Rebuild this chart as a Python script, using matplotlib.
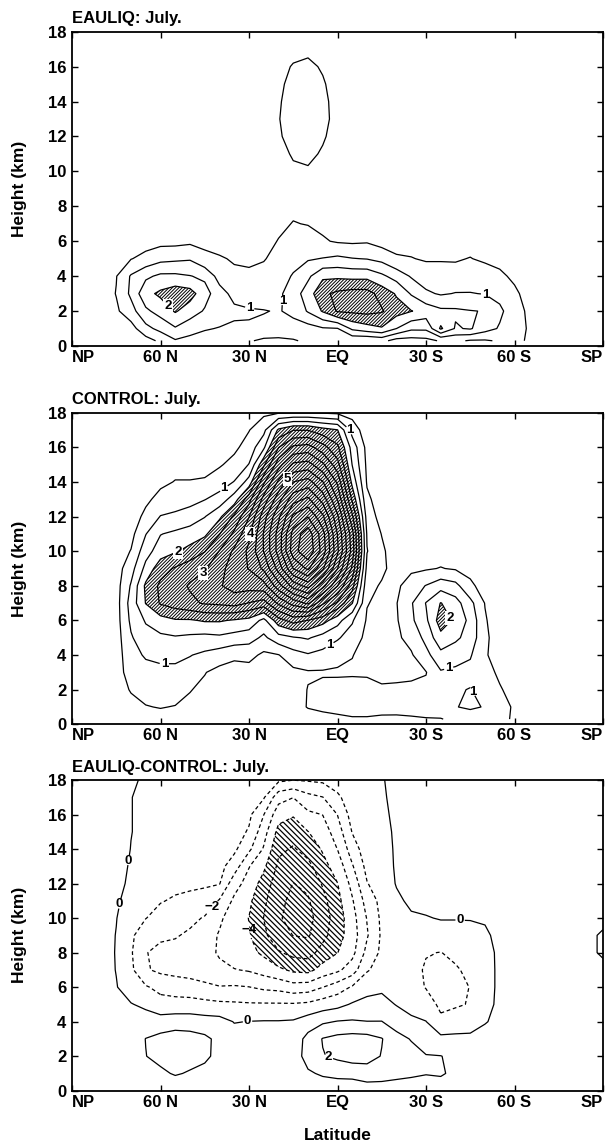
import numpy as np
import matplotlib
matplotlib.use("Agg")
import matplotlib.pyplot as plt

plt.rcParams['font.family'] = ['Liberation Sans', 'DejaVu Sans']
plt.rcParams['font.weight'] = 'bold'
plt.rcParams['axes.titleweight'] = 'bold'
plt.rcParams['axes.labelweight'] = 'bold'
plt.rcParams['hatch.color'] = 'black'

# Grid: latitude (deg, north positive) and height (km)
lats = np.arange(90, -91, -5)
heights = np.array([0.3] + list(range(1, 19)), dtype=float)

tick_lats = [90, 60, 30, 0, -30, -60, -90]
tick_names = ['NP', '60 N', '30 N', 'EQ', '30 S', '60 S', 'SP']
height_ticks = list(range(0, 19, 2))

# ---- EAULIQ: July.  (columns by latitude, values at each height) ----
eauliq = {
    90: [0.1] * 19,
    85: [0.1] * 19,
    80: [0.1, 0.12, 0.18, 0.22, 0.2, 0.15, 0.12] + [0.1] * 12,
    75: [0.15, 0.25, 0.42, 0.52, 0.48, 0.3, 0.2, 0.15] + [0.1] * 11,
    70: [0.2, 0.3, 0.8, 1.1, 1.05, 0.48, 0.25, 0.18] + [0.12] * 11,
    65: [0.3, 0.85, 1.4, 1.85, 1.4, 0.65, 0.3, 0.2] + [0.15] * 11,
    60: [0.6, 1.15, 1.7, 2.1, 1.6, 0.85, 0.35, 0.25] + [0.15] * 11,
    55: [0.95, 1.45, 2.05, 2.3, 1.6, 0.9, 0.35, 0.25] + [0.15] * 11,
    50: [0.85, 1.2, 1.75, 2.2, 1.52, 0.95, 0.4, 0.28] + [0.15] * 11,
    45: [0.75, 1.05, 1.45, 1.7, 1.4, 0.6, 0.4, 0.25] + [0.15] * 11,
    40: [0.7, 0.97, 1.3, 1.2, 0.8, 0.55, 0.3, 0.2] + [0.15] * 11,
    35: [0.6, 0.92, 1.1, 0.85, 0.6, 0.45, 0.3, 0.2] + [0.15] * 11,
    30: [0.55, 0.95, 1.05, 0.75, 0.55, 0.45, 0.3, 0.2] + [0.15] * 11,
    25: [0.4, 0.9, 1.02, 0.75, 0.6, 0.48, 0.35, 0.25, 0.18] + [0.15] * 10,
    20: [0.4, 0.8, 0.97, 0.9, 0.75, 0.6, 0.52, 0.4, 0.3, 0.25, 0.3, 0.35, 0.45, 0.48, 0.45, 0.4, 0.3, 0.2, 0.15],
    15: [0.45, 0.85, 1.1, 1.25, 1.05, 0.8, 0.65, 0.52, 0.4, 0.35, 0.42, 0.55, 0.65, 0.7, 0.7, 0.65, 0.55, 0.3, 0.15],
    10: [0.6, 0.8, 1.55, 1.75, 1.4, 0.95, 0.7, 0.48, 0.35, 0.33, 0.45, 0.6, 0.7, 0.75, 0.75, 0.7, 0.6, 0.4, 0.15],
    5: [0.7, 0.95, 2.05, 2.4, 1.9, 1.02, 0.55, 0.4, 0.3, 0.28, 0.3, 0.45, 0.55, 0.6, 0.6, 0.55, 0.45, 0.3, 0.15],
    0: [0.75, 0.98, 2.55, 2.6, 1.9, 1.1, 0.45, 0.35, 0.28, 0.25, 0.25, 0.28, 0.33, 0.38, 0.35, 0.3, 0.25, 0.2, 0.15],
    -5: [0.6, 1.6, 2.6, 2.7, 1.85, 1.02, 0.42, 0.35, 0.28, 0.25, 0.25, 0.25, 0.28, 0.3, 0.28, 0.25, 0.2, 0.15, 0.1],
    -10: [0.55, 1.8, 2.65, 2.7, 1.85, 0.98, 0.45, 0.32, 0.25, 0.22] + [0.2] * 6 + [0.15, 0.12, 0.1],
    -15: [0.65, 1.95, 2.55, 2.3, 1.6, 0.85, 0.3, 0.25] + [0.2] * 8 + [0.15, 0.12, 0.1],
    -20: [0.3, 1.5, 2.2, 1.95, 1.3, 0.55, 0.35, 0.25] + [0.2] * 8 + [0.15, 0.12, 0.1],
    -25: [0.3, 1.1, 2.02, 1.45, 0.95, 0.52, 0.33, 0.25] + [0.2] * 8 + [0.15, 0.12, 0.1],
    -30: [0.35, 1.1, 1.8, 1.08, 0.75, 0.45, 0.3, 0.2] + [0.15] * 11,
    -35: [0.55, 2.08, 1.6, 0.95, 0.6, 0.48, 0.3, 0.2] + [0.15] * 11,
    -40: [0.6, 1.45, 1.58, 1.02, 0.7, 0.45, 0.3, 0.2] + [0.15] * 11,
    -45: [0.45, 1.55, 1.52, 1.02, 0.75, 0.52, 0.3, 0.2] + [0.15] * 11,
    -50: [0.45, 1.2, 1.48, 0.98, 0.8, 0.4, 0.25, 0.2] + [0.15] * 11,
    -55: [0.55, 0.95, 1.1, 0.85, 0.6, 0.35, 0.2, 0.15] + [0.1] * 11,
    -60: [0.6, 0.7, 0.72, 0.6, 0.4, 0.25, 0.15] + [0.1] * 12,
    -65: [0.45, 0.45, 0.4, 0.3, 0.2, 0.15] + [0.1] * 13,
    -70: [0.2, 0.2, 0.2, 0.15] + [0.1] * 15,
    -75: [0.1] * 19, -80: [0.1] * 19, -85: [0.1] * 19, -90: [0.1] * 19,
}

# ---- CONTROL: July. ----
control = {
    90: [0.1] * 19, 85: [0.1] * 19, 80: [0.1] * 19,
    75: [0.1, 0.15, 0.2, 0.25, 0.25, 0.28, 0.3, 0.3, 0.3, 0.28, 0.25, 0.2, 0.15] + [0.1] * 6,
    70: [0.2, 0.3, 0.55, 0.75, 0.85, 0.95, 1.1, 1.2, 1.05, 0.8, 0.52, 0.35, 0.25, 0.2, 0.15, 0.12, 0.1, 0.1, 0.1],
    65: [0.3, 0.48, 0.65, 0.85, 1.05, 1.3, 1.55, 2.02, 2.1, 1.65, 1.3, 0.98, 0.62, 0.4, 0.3, 0.25, 0.2, 0.15, 0.1],
    60: [0.35, 0.52, 0.7, 0.9, 1.1, 1.4, 1.8, 2.55, 2.6, 2.3, 1.75, 1.48, 1.02, 0.65, 0.4, 0.3, 0.25, 0.2, 0.15],
    55: [0.4, 0.48, 0.7, 0.9, 1.1, 1.45, 1.95, 2.75, 2.8, 2.55, 1.95, 1.6, 1.1, 0.75, 0.52, 0.35, 0.25, 0.2, 0.15],
    50: [0.3, 0.4, 0.52, 0.8, 1.02, 1.4, 1.95, 2.9, 3.05, 2.8, 2.15, 1.75, 1.2, 0.85, 0.52, 0.35, 0.25, 0.2, 0.15],
    45: [0.2, 0.3, 0.4, 0.52, 0.9, 1.35, 2.05, 3.05, 3.2, 2.95, 2.48, 1.9, 1.48, 0.98, 0.55, 0.35, 0.25, 0.2, 0.15],
    40: [0.2, 0.25, 0.3, 0.35, 0.75, 1.4, 2.05, 3.1, 3.45, 3.3, 3.02, 2.48, 1.9, 1.2, 0.75, 0.45, 0.3, 0.2, 0.15],
    35: [0.15, 0.2, 0.25, 0.3, 0.6, 1.3, 1.95, 3.2, 3.7, 3.8, 3.6, 3.1, 2.6, 1.75, 1.02, 0.65, 0.4, 0.25, 0.15],
    30: [0.15, 0.2, 0.25, 0.3, 0.65, 1.2, 1.85, 2.98, 3.7, 4.02, 4.1, 3.9, 3.48, 2.8, 1.7, 1.02, 0.7, 0.48, 0.3],
    25: [0.15, 0.2, 0.25, 0.3, 0.4, 0.9, 1.35, 2.8, 3.8, 4.6, 5.02, 5.04, 4.8, 4.2, 3.4, 2.4, 1.4, 0.85, 0.4],
    20: [0.1, 0.15, 0.25, 0.35, 0.48, 1.3, 2.3, 3.6, 4.8, 5.7, 6.2, 6.2, 5.9, 5.3, 4.6, 3.8, 2.98, 2.1, 0.45],
    15: [0.1, 0.15, 0.25, 0.38, 0.8, 1.45, 2.7, 4.2, 5.7, 7.02, 7.8, 7.7, 7.1, 6.3, 5.5, 4.6, 3.6, 2.48, 0.48],
    10: [0.1, 0.55, 0.52, 0.45, 0.95, 1.55, 2.48, 4.6, 6.2, 7.6, 8.4, 8.3, 7.48, 6.6, 5.7, 4.7, 3.7, 2.48, 0.48],
    5: [0.35, 0.6, 0.62, 0.45, 0.85, 1.3, 2.2, 3.6, 5.2, 6.6, 7.3, 7.2, 6.6, 5.8, 5.02, 4.1, 3.2, 2.2, 0.45],
    0: [0.4, 0.65, 0.7, 0.42, 0.7, 1.05, 1.7, 2.9, 4.02, 5.02, 5.6, 5.48, 5.1, 4.48, 3.9, 3.2, 2.6, 2.02, 0.4],
    -5: [0.45, 0.7, 0.75, 0.42, 0.52, 0.8, 1.05, 2.02, 2.7, 3.4, 3.8, 3.7, 3.1, 2.4, 1.85, 1.48, 1.3, 0.8, 0.3],
    -10: [0.45, 0.7, 0.75, 0.4, 0.3, 0.35, 0.45, 0.52, 0.65, 0.85, 1.02, 0.95, 0.8, 0.6, 0.45, 0.4, 0.35, 0.2, 0.15],
    -15: [0.4, 0.7, 0.6, 0.3, 0.25, 0.25, 0.3, 0.4, 0.45, 0.6, 0.6, 0.48, 0.3, 0.25, 0.2, 0.15, 0.15, 0.15, 0.15],
    -20: [0.42, 0.65, 0.6, 0.35, 0.35, 0.42, 0.45, 0.48, 0.4, 0.3, 0.2, 0.15, 0.15, 0.15, 0.15, 0.1, 0.1, 0.1, 0.1],
    -25: [0.45, 0.65, 0.6, 0.4, 0.45, 0.65, 0.9, 0.95, 0.75, 0.4, 0.25, 0.15, 0.15, 0.15, 0.1, 0.1, 0.1, 0.1, 0.1],
    -30: [0.48, 0.65, 0.6, 0.48, 0.85, 1.15, 1.4, 1.52, 1.02, 0.45, 0.25, 0.15, 0.15, 0.1, 0.1, 0.1, 0.1, 0.1, 0.1],
    -35: [0.48, 0.75, 0.8, 0.95, 1.35, 1.85, 2.25, 2.02, 1.3, 0.52, 0.3, 0.2, 0.15] + [0.1] * 6,
    -40: [0.6, 0.98, 0.95, 0.9, 1.2, 1.6, 1.9, 1.7, 1.15, 0.45, 0.25, 0.15] + [0.1] * 7,
    -45: [0.7, 1.08, 1.02, 0.85, 1.05, 1.3, 1.35, 1.15, 0.6, 0.35, 0.2, 0.15] + [0.1] * 7,
    -50: [0.6, 0.97, 0.8, 0.7, 0.55, 0.6, 0.55, 0.48, 0.3, 0.2, 0.15] + [0.1] * 8,
    -55: [0.6, 0.65, 0.55, 0.4, 0.3, 0.25, 0.2, 0.15] + [0.1] * 11,
    -60: [0.45, 0.45, 0.3, 0.2, 0.15] + [0.1] * 14,
    -65: [0.1] * 19, -70: [0.1] * 19, -75: [0.1] * 19, -80: [0.1] * 19,
    -85: [0.1] * 19, -90: [0.1] * 19,
}

# ---- EAULIQ-CONTROL: July. ----
difference = {
    90: [0.4] * 19, 85: [0.4] * 19, 80: [0.4] * 19,
    75: [0.4, 0.4, 0.4, 0.4, 0.35, 0.25, 0.05, -0.03, -0.05, -0.03, 0.03, 0.15, 0.3, 0.35, 0.4, 0.4, 0.4, 0.4, 0.4],
    70: [0.5, 0.52, 0.55, 0.45, 0.3, 0.05, -0.5, -0.8, -0.9, -0.85, -0.6, -0.4, -0.2, -0.1, -0.02, 0.02, 0.02, 0.02, 0.1],
    65: [0.5, 0.8, 0.98, 1.02, 0.45, -0.2, -0.9, -1.9, -1.95, -1.5, -0.98, -0.7, -0.5, -0.35, -0.25, -0.2, -0.2, -0.2, -0.1],
    60: [0.6, 0.8, 1.3, 1.3, 0.4, -0.6, -1.3, -2.2, -2.3, -1.8, -1.3, -0.95, -0.7, -0.5, -0.35, -0.3, -0.25, -0.2, -0.15],
    55: [0.5, 1.1, 1.55, 1.5, 0.5, -0.6, -1.5, -2.3, -2.4, -1.9, -1.5, -1.1, -0.8, -0.55, -0.4, -0.3, -0.25, -0.2, -0.15],
    50: [0.4, 0.9, 1.4, 1.4, 0.5, -0.6, -1.6, -2.4, -2.5, -2.2, -1.7, -1.2, -0.85, -0.6, -0.45, -0.35, -0.3, -0.2, -0.15],
    45: [0.3, 0.7, 1.2, 1.2, 0.4, -0.7, -1.8, -2.5, -2.7, -2.5, -2.1, -1.3, -0.9, -0.65, -0.5, -0.4, -0.3, -0.25, -0.2],
    40: [0.3, 0.5, 0.7, 0.75, 0.35, -0.8, -1.95, -2.8, -3.1, -3.1, -2.8, -2.1, -0.95, -0.7, -0.5, -0.4, -0.35, -0.3, -0.2],
    35: [0.3, 0.45, 0.5, 0.4, -0.04, -0.85, -1.9, -2.95, -3.6, -3.8, -3.6, -3.2, -2.6, -1.5, -0.8, -0.6, -0.45, -0.35, -0.3],
    30: [0.3, 0.4, 0.45, 0.35, 0.02, -0.9, -1.98, -3.1, -3.7, -3.95, -4.02, -3.8, -3.4, -2.95, -1.8, -1.1, -0.8, -0.48, -0.35],
    25: [0.35, 0.4, 0.45, 0.3, 0.05, -0.9, -2.2, -3.4, -4.2, -4.8, -5.02, -4.8, -4.4, -3.8, -3.1, -2.6, -1.98, -0.9, -0.45],
    20: [0.35, 0.4, 0.45, 0.3, 0.05, -0.9, -2.3, -3.8, -4.9, -5.6, -5.9, -5.8, -5.6, -5.2, -4.8, -4.3, -3.6, -2.6, -0.8],
    15: [0.4, 0.52, 0.6, 0.45, 0.1, -0.9, -2.6, -4.2, -5.3, -6.02, -6.3, -6.2, -6.02, -5.6, -5.1, -4.6, -3.9, -2.98, -0.98],
    10: [0.6, 0.9, 1.3, 1.3, 0.5, -0.8, -2.5, -4.3, -5.4, -6.1, -6.3, -6.1, -5.8, -5.3, -4.6, -4.02, -3.2, -2.3, -0.9],
    5: [0.7, 1.1, 1.95, 2.05, 0.85, -0.5, -2.02, -3.6, -4.6, -5.3, -5.5, -5.3, -4.9, -4.3, -3.9, -3.5, -2.98, -2.02, -0.8],
    0: [0.6, 1.3, 2.2, 2.3, 1.05, -0.3, -1.5, -3.2, -4.02, -4.4, -4.5, -4.3, -4.02, -3.6, -2.98, -2.5, -1.98, -1.2, -0.45],
    -5: [0.55, 1.4, 2.4, 2.4, 1.1, 0.1, -0.9, -2.5, -3.3, -3.5, -3.4, -3.1, -2.7, -2.1, -1.5, -0.95, -0.6, -0.4, -0.3],
    -10: [0.8, 1.5, 2.4, 2.35, 1.02, 0.25, -0.3, -1.1, -1.7, -2.1, -1.95, -1.6, -1.05, -0.7, -0.45, -0.3, -0.2, -0.15, -0.1],
    -15: [0.8, 1.4, 1.95, 2.05, 1.02, 0.35, -0.2, -0.6, -0.8, -0.85, -0.8, -0.7, -0.48, -0.4, -0.3, -0.2, -0.15, -0.1, -0.05],
    -20: [0.8, 1.2, 1.5, 1.3, 0.6, -0.05, -0.4, -0.48, -0.48, -0.45, -0.35, -0.15, 0.05, 0.1, 0.1, 0.1, 0.15, 0.2, 0.2],
    -25: [0.7, 1.15, 1.3, 0.95, 0.2, -0.35, -0.6, -0.7, -0.6, -0.4, -0.1, 0.15, 0.3, 0.35, 0.35, 0.35, 0.35, 0.35, 0.35],
    -30: [0.6, 1.05, 1.05, 0.52, 0.02, -0.55, -1.05, -1.1, -0.95, -0.48, -0.05, 0.25, 0.35, 0.4, 0.4, 0.4, 0.4, 0.4, 0.4],
    -35: [0.7, 1.1, 1.02, 0.25, -0.8, -1.2, -1.3, -1.25, -1.02, -0.4, 0.05, 0.3, 0.35, 0.4, 0.4, 0.4, 0.4, 0.4, 0.4],
    -40: [0.6, 0.8, 0.8, 0.25, -0.6, -1.1, -1.2, -1.1, -0.8, -0.4, 0.05, 0.3, 0.35, 0.4, 0.4, 0.4, 0.4, 0.4, 0.4],
    -45: [0.5, 0.6, 0.6, 0.2, -0.4, -0.95, -0.98, -0.8, -0.6, -0.3, 0.05, 0.3, 0.35, 0.4, 0.4, 0.4, 0.4, 0.4, 0.4],
    -50: [0.5, 0.5, 0.5, 0.3, -0.05, -0.3, -0.4, -0.4, -0.35, -0.15, 0.1, 0.3, 0.35, 0.4, 0.4, 0.4, 0.4, 0.4, 0.4],
    -55: [0.5, 0.5, 0.5, 0.35, 0.2, 0.2, 0.2, 0.2, 0.2, 0.25, 0.3, 0.35, 0.4, 0.4, 0.4, 0.4, 0.4, 0.4, 0.4],
    -60: [0.4] * 19, -65: [0.4] * 19, -70: [0.4] * 19, -75: [0.4] * 19, -80: [0.4] * 19,
    -85: [0.4] * 8 + [0.3, 0.3] + [0.4] * 9,
    -90: [0.4] * 8 + [-0.2, -0.2] + [0.4] * 9,
}

eauliq_levels = [0.5, 1.0, 1.5, 2.0, 2.5]
eauliq_labelled = [1.0, 2.0]
control_levels = list(np.arange(0.5, 9.0, 0.5))
control_labelled = [1.0, 2.0, 3.0, 4.0, 5.0]
difference_levels = [-7, -6, -5, -4, -3, -2, -1, 0, 1, 2]
difference_labelled = [-4, -2, 0, 2]

# label positions (lat, height)
eauliq_label_pos = [(29.9, 1.97), (18.1, 2.6), (-50.0, 2.9), (58.0, 2.2)]
control_label_pos = [(38.4, 13.6), (58.7, 3.5), (-4.2, 17.0), (2.4, 4.5), (-37.6, 3.3),
                     (-46.0, 1.9), (54.1, 10.0), (44.3, 8.44), (29.5, 11.0), (18.0, 14.3),
                     (-40.2, 6.3)]
difference_label_pos = [(73.4, 13.4), (73.4, 10.8), (42.3, 10.6), (31.2, 9.3), (30.5, 4.0),
                        (-41.5, 9.6), (2.4, 2.26)]


def to_grid(columns):
    return np.array([columns[int(lat)] for lat in lats], dtype=float).T


def fmt_level(v):
    s = f"{v:g}"
    return s.replace('-', '\u2212')


def dash_for(v):
    return 'solid' if v >= 0 else (0, (3.0, 2.2))


def draw_contours(ax, X, Y, F, levels, labelled, positions, box_labels=()):
    plain = [v for v in levels if v not in labelled]
    ax.contour(X, Y, F, levels=plain, colors='k', linewidths=0.9,
               linestyles=[dash_for(v) for v in plain])
    cs = ax.contour(X, Y, F, levels=labelled, colors='k', linewidths=0.9,
                    linestyles=[dash_for(v) for v in labelled])
    texts = ax.clabel(cs, manual=positions, inline=True, fmt=fmt_level,
                      fontsize=9.5, inline_spacing=1)
    for t in texts:
        t.set_rotation(0)
        t.set_fontweight('bold')
        if t.get_text() in box_labels:
            t.set_bbox(dict(facecolor='white', edgecolor='none', pad=0.8))
    return texts


fig = plt.figure(figsize=(6.07, 11.45), dpi=100)

W = 607.0
H = 1145.0
ax_left, ax_right = 72.0, 603.0
panel_rows = [(31.7, 346.0), (412.7, 724.3), (780.0, 1090.7)]
axes = []
for top, bottom in panel_rows:
    axes.append(fig.add_axes([ax_left / W, 1 - bottom / H,
                              (ax_right - ax_left) / W, (bottom - top) / H]))


def style_axes(ax, title):
    ax.set_xlim(90, -90)
    ax.set_ylim(0, 18)
    ax.set_xticks(tick_lats)
    ax.set_xticklabels(tick_names)
    ax.set_yticks(height_ticks)
    ax.tick_params(direction='in', top=True, right=True, length=4, width=1.0,
                   labelsize=12, pad=3)
    ax.tick_params(axis='y', pad=4)
    xl = ax.get_xticklabels()
    xl[0].set_ha('left')
    xl[-1].set_ha('right')
    for sp in ax.spines.values():
        sp.set_linewidth(1.3)
    ax.set_ylabel('Height (km)', fontsize=12.5)
    ax.yaxis.set_label_coords(-0.085, 0.5)
    ax.set_title(title, loc='left', fontsize=12, pad=6)


X, Y = np.meshgrid(lats, heights)

# Panel 1
ax = axes[0]
F1 = to_grid(eauliq)
plt.rcParams['hatch.linewidth'] = 0.7
ax.contourf(X, Y, F1, levels=[2.0, 100], colors='none', hatches=['/' * 10])
draw_contours(ax, X, Y, F1, eauliq_levels, eauliq_labelled, eauliq_label_pos,
              box_labels=('2',))
style_axes(ax, 'EAULIQ: July.')

# Panel 2
ax = axes[1]
F2 = to_grid(control)
plt.rcParams['hatch.linewidth'] = 0.7
ax.contourf(X, Y, F2, levels=[2.0, 100], colors='none', hatches=['/' * 10])
draw_contours(ax, X, Y, F2, control_levels, control_labelled, control_label_pos,
              box_labels=('2', '3', '4', '5'))
style_axes(ax, 'CONTROL: July.')

# Panel 3
ax = axes[2]
F3 = to_grid(difference)
plt.rcParams['hatch.linewidth'] = 0.9
ax.contourf(X, Y, F3, levels=[-100, -4.0], colors='none', hatches=['\\' * 6])
draw_contours(ax, X, Y, F3, difference_levels, difference_labelled, difference_label_pos)
style_axes(ax, 'EAULIQ-CONTROL: July.')
fig.text(337.5 / W, 1 - 1136 / H, 'Latitude', ha='center', va='center', fontsize=12.5)

fig.savefig('out.png', dpi=100)
